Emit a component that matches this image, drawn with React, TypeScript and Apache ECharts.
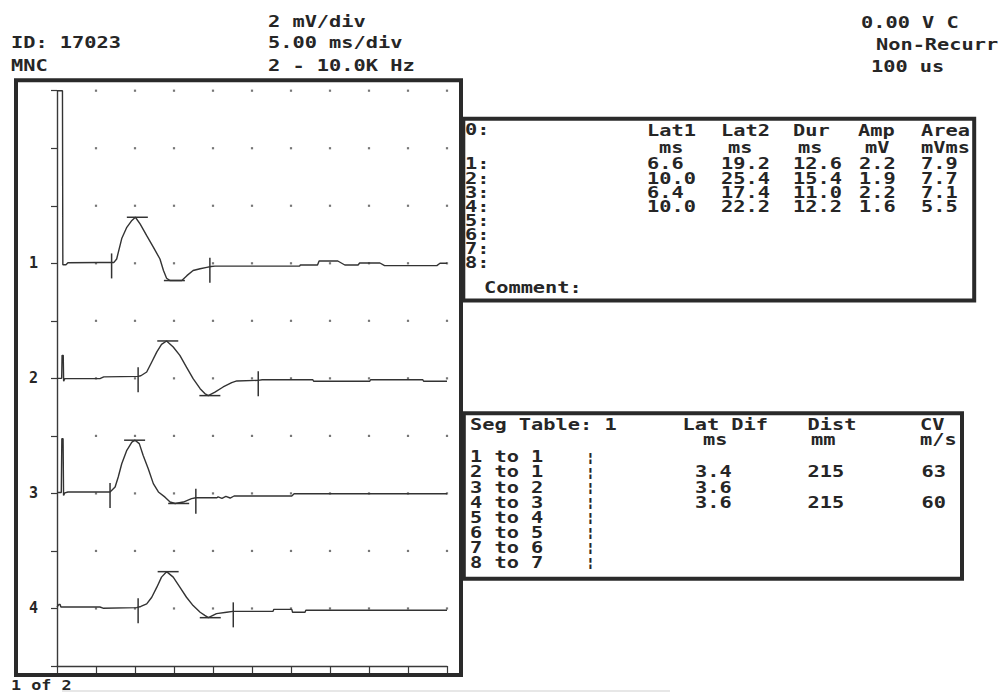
import { useEffect, useRef } from "react";
import * as echarts from "echarts";

// Sweep: 5.00 ms/div over 10 divisions; sensitivity: 2 mV/div over 10 divisions
const X_MAX_MS = 50;
const X_DIV_MS = 5;
const Y_MAX_MV = 20;
const Y_DIV_MV = 2;

// Each trace is drawn on its own baseline (mV on the display scale)
const TRACE_BASE_MV = [14, 10, 6, 2];
const TRACE_LABELS = ["1", "2", "3", "4"];

// Delay between the sweep start and the stimulus (ms)
const STIM_DELAY_MS = 0.4;

// Waveforms: [time ms, mV relative to the trace baseline]
const TRACE_1: [number, number][] = [
  [0, 6.0], [0.7, 6.0], [0.75, -0.05], [1.15, -0.05], [1.4, 0.02], [5.5, 0.03],
  [7.3, 0.03], [7.65, 0.15], [8.3, 0.86], [8.95, 1.25], [9.6, 1.49], [10.05, 1.6],
  [10.65, 1.37], [11.5, 0.96], [12.35, 0.56], [13.2, 0.15], [13.65, -0.25],
  [14.05, -0.52], [14.5, -0.6], [16.0, -0.6], [16.65, -0.43], [17.45, -0.25],
  [18.35, -0.19], [19.2, -0.14], [19.75, -0.11], [20.25, -0.1], [31.1, -0.1],
  [31.2, -0.06], [33.4, -0.06], [33.6, 0.08], [36.0, 0.08], [36.9, -0.06],
  [38.6, -0.06], [38.8, 0.01], [41.4, 0.01], [42.0, -0.08], [48.7, -0.08],
  [49.1, 0], [50, 0],
];
const TRACE_2: [number, number][] = [
  [0, 0], [0.6, 0], [0.65, 0.8], [0.8, 0.8], [0.85, -0.1], [1.0, -0.01],
  [5.5, -0.01], [6.0, 0.05], [10.4, 0.07], [10.75, 0.09], [11.5, 0.22],
  [12.15, 0.57], [12.8, 0.92], [13.4, 1.18], [14.05, 1.3], [14.9, 1.09],
  [15.75, 0.8], [16.6, 0.39], [17.45, -0.01], [18.35, -0.36], [18.95, -0.53],
  [19.4, -0.6], [20.25, -0.48], [21.3, -0.3], [22.4, -0.15], [23.05, -0.09],
  [25.8, -0.07], [26.3, -0.05], [32.8, -0.05], [32.9, -0.1], [40.1, -0.1],
  [40.2, -0.05], [46.9, -0.05], [47.0, -0.1], [50, -0.1],
];
const TRACE_3: [number, number][] = [
  [0, 0.03], [0.55, 0.03], [0.62, 1.9], [0.78, 1.9], [0.84, -0.07], [1.0, 0.02],
  [1.4, 0.05], [6.8, 0.05], [7.45, 0.22], [7.85, 0.57], [8.3, 1.03], [8.95, 1.5],
  [9.6, 1.78], [10.0, 1.85], [10.55, 1.73], [11.05, 1.32], [11.7, 0.86],
  [12.35, 0.34], [13.0, 0.05], [13.85, -0.13], [14.5, -0.3], [15.15, -0.35],
  [16.2, -0.3], [17.25, -0.18], [17.8, -0.15], [20.5, -0.15], [20.65, -0.12],
  [21.15, -0.17], [21.65, -0.1], [22.2, -0.16], [22.7, -0.09], [30.1, -0.09],
  [30.4, -0.01], [50, -0.01],
];
const TRACE_4: [number, number][] = [
  [0, 0.05], [0.25, 0.14], [0.4, 0.14], [0.5, 0.05], [5.5, 0.05], [5.9, 0.01],
  [10.2, 0.03], [10.75, 0.07], [11.5, 0.16], [12.15, 0.39], [12.8, 0.74],
  [13.4, 1.09], [14.05, 1.28], [14.9, 1.09], [15.75, 0.74], [16.6, 0.39],
  [17.45, 0.1], [18.35, -0.13], [18.95, -0.24], [19.4, -0.32], [20.45, -0.18],
  [21.75, -0.13], [22.55, -0.1], [27.7, -0.1], [27.8, -0.03], [30.1, -0.03],
  [30.2, -0.13], [31.8, -0.13], [31.9, -0.06], [50, -0.06],
];
const TRACES = [TRACE_1, TRACE_2, TRACE_3, TRACE_4];

// Measurement table (per trace)
const LAT1_MS = [6.6, 10.0, 6.4, 10.0];
const LAT2_MS = [19.2, 25.4, 17.4, 22.2];
const AMP_MV = [2.2, 1.9, 2.2, 1.6];
const AREA_MVMS = [7.9, 7.7, 7.1, 5.5];
// Positive peak (mV above baseline) and the time of the peak / trough cursors
const PEAK_MV = [1.6, 1.3, 1.85, 1.28];
const PEAK_T_MS = [10.3, 14.2, 9.95, 14.25];
const TROUGH_T_MS = [15.05, 19.6, 15.6, 19.65];

// Segment table
const SEG_ROWS = ["1 to 1", "2 to 1", "3 to 2", "4 to 3", "5 to 4", "6 to 5", "7 to 6", "8 to 7"];
const SEG_LAT_DIF_MS = [null, 3.4, 3.6, 3.6, null, null, null, null];
const SEG_DIST_MM = [null, 215, null, 215, null, null, null, null];
const SEG_CV_MS = [null, 63, null, 60, null, null, null, null];

const INK = "#262626";
const LINE = "#333333";
const FONT = 'bold 16px "DejaVu Sans Mono"';
const SCALE_X = 1.27;

function valueAt(trace: [number, number][], t: number): number {
  for (let i = 1; i < trace.length; i++) {
    const [t0, v0] = trace[i - 1];
    const [t1, v1] = trace[i];
    if (t >= t0 && t <= t1) {
      return t1 === t0 ? v1 : v0 + ((v1 - v0) * (t - t0)) / (t1 - t0);
    }
  }
  return trace[trace.length - 1][1];
}

function txt(x: number, y: number, s: string, font: string = FONT, scaleX: number = SCALE_X) {
  return {
    type: "text",
    x,
    y,
    scaleX,
    silent: true,
    style: {
      text: s,
      font,
      fill: INK,
      align: "left",
      verticalAlign: "middle",
      textAlign: "left",
      textVerticalAlign: "middle",
    },
  };
}

function frame(x: number, y: number, w: number, h: number) {
  return {
    type: "rect",
    silent: true,
    shape: { x, y, width: w, height: h },
    style: { fill: "none", stroke: "#2a2a2a", lineWidth: 4 },
  };
}

export default function App() {
  const ref = useRef<HTMLDivElement>(null);

  useEffect(() => {
    if (!ref.current) return;
    const chart = echarts.init(ref.current, undefined, { renderer: "svg" });

    // Dotted graticule at every division
    const dots: number[][] = [];
    for (let x = X_DIV_MS; x <= X_MAX_MS; x += X_DIV_MS) {
      for (let y = Y_DIV_MV; y <= Y_MAX_MV; y += Y_DIV_MV) dots.push([x, y]);
    }

    const traceSeries = TRACES.map((tr, i) => ({
      type: "line",
      name: TRACE_LABELS[i],
      data: tr.map(([t, v]) => [t, TRACE_BASE_MV[i] + v]),
      showSymbol: false,
      symbol: "none",
      lineStyle: { color: LINE, width: 1.4 },
      clip: true,
      z: 3,
    }));

    // Cursors: 0 = latency tick, 1 = peak / trough bar
    const cursors: number[][] = [];
    TRACES.forEach((tr, i) => {
      const base = TRACE_BASE_MV[i];
      const t1 = LAT1_MS[i] + STIM_DELAY_MS;
      const t2 = LAT2_MS[i] + STIM_DELAY_MS;
      cursors.push([t1, base + valueAt(tr, t1), 0]);
      cursors.push([t2, base + valueAt(tr, t2), 0]);
      cursors.push([PEAK_T_MS[i], base + PEAK_MV[i], 1]);
      cursors.push([TROUGH_T_MS[i], base + PEAK_MV[i] - AMP_MV[i], 1]);
    });

    const graphics: any[] = [
      frame(16, 80.3, 445, 594.7),
      frame(463.3, 118.7, 510.9, 181.8),
      frame(463.8, 413.3, 498.2, 165.5),
      {
        type: "line",
        silent: true,
        shape: { x1: 62, y1: 691, x2: 670, y2: 691 },
        style: { stroke: "#cfcfcf", lineWidth: 1 },
      },
      // Header
      txt(268, 21, "2 mV/div"),
      txt(11, 42.5, "ID: 17023"),
      txt(268, 42.5, "5.00 ms/div"),
      txt(11, 65.3, "MNC"),
      txt(268, 65.5, "2 - 10.0K Hz"),
      txt(861, 22.5, "0.00 V C"),
      txt(876, 44.2, "Non-Recurr"),
      txt(871, 66, "100 us"),
      txt(11, 685, "1 of 2", 'bold 14px "DejaVu Sans Mono"', 1.2),
    ];

    // Measurement table
    const colX = [647, 721, 793, 858, 921];
    const heads = ["Lat1", "Lat2", "Dur", "Amp", "Area"];
    const units = ["ms", "ms", "ms", "mV", "mVms"];
    const unitX = [659, 728, 798, 865, 921];
    graphics.push(txt(465, 129, "0:"));
    heads.forEach((h, k) => graphics.push(txt(colX[k], 130, h)));
    units.forEach((u, k) => graphics.push(txt(unitX[k], 147, u)));
    for (let r = 0; r < 8; r++) {
      const y = 163.8 + 14.07 * r;
      graphics.push(txt(465, y, `${r + 1}:`));
      if (r < LAT1_MS.length) {
        const vals = [
          LAT1_MS[r].toFixed(1),
          LAT2_MS[r].toFixed(1),
          (LAT2_MS[r] - LAT1_MS[r]).toFixed(1),
          AMP_MV[r].toFixed(1),
          AREA_MVMS[r].toFixed(1),
        ];
        vals.forEach((v, k) => graphics.push(txt(k === 3 ? 859 : colX[k], y, v)));
      }
    }
    graphics.push(txt(484, 287.5, "Comment:"));

    // Segment table
    graphics.push(txt(470, 424.2, "Seg Table: 1"));
    graphics.push(txt(682.5, 424.2, "Lat Dif"));
    graphics.push(txt(807.5, 424.2, "Dist"));
    graphics.push(txt(920, 424.2, "CV"));
    graphics.push(txt(703, 439.5, "ms"));
    graphics.push(txt(811, 439.5, "mm"));
    graphics.push(txt(920, 439.5, "m/s"));
    SEG_ROWS.forEach((row, r) => {
      const y = 456.7 + 15.1 * r;
      graphics.push(txt(470, y, row));
      graphics.push(txt(585, y + 1, "¦", 'bold 12px "DejaVu Sans Mono"', 1.5));
      const ld = SEG_LAT_DIF_MS[r];
      const di = SEG_DIST_MM[r];
      const cv = SEG_CV_MS[r];
      if (ld != null) graphics.push(txt(695, y, ld.toFixed(1)));
      if (di != null) graphics.push(txt(807.5, y, String(di)));
      if (cv != null) graphics.push(txt(921.5, y, String(cv)));
    });

    chart.setOption({
      animation: false,
      backgroundColor: "#ffffff",
      grid: { left: 57, right: 554, top: 90.7, bottom: 27, containLabel: false },
      xAxis: {
        type: "value",
        min: 0,
        max: X_MAX_MS,
        interval: X_DIV_MS,
        axisLine: { show: true, onZero: false, lineStyle: { color: "#3a3a3a", width: 1.4 } },
        axisTick: { show: true, inside: false, length: 7, lineStyle: { color: "#3a3a3a", width: 1.2 } },
        axisLabel: { show: false },
        splitLine: { show: false },
      },
      yAxis: {
        type: "value",
        min: 0,
        max: Y_MAX_MV,
        interval: Y_DIV_MV,
        axisLine: { show: true, onZero: false, lineStyle: { color: "#3a3a3a", width: 1.4 } },
        axisTick: { show: true, inside: false, length: 6, lineStyle: { color: "#3a3a3a", width: 1.2 } },
        axisLabel: {
          show: true,
          margin: 19,
          color: INK,
          fontFamily: "DejaVu Sans Mono",
          fontWeight: "bold",
          fontSize: 15,
          formatter: (v: number) => {
            const k = TRACE_BASE_MV.indexOf(v);
            return k >= 0 ? TRACE_LABELS[k] : "";
          },
        },
        splitLine: { show: false },
      },
      series: [
        {
          type: "scatter",
          data: dots,
          symbol: "rect",
          symbolSize: 2.2,
          itemStyle: { color: "#555555" },
          silent: true,
          z: 1,
        },
        ...traceSeries,
        {
          type: "custom",
          data: cursors,
          silent: true,
          z: 4,
          renderItem: (_params: any, api: any) => {
            const p = api.coord([api.value(0), api.value(1)]);
            const kind = api.value(2);
            const shape =
              kind === 0
                ? { x1: p[0], y1: p[1] - 9, x2: p[0], y2: p[1] + 16 }
                : { x1: p[0] - 10.5, y1: p[1], x2: p[0] + 10.5, y2: p[1] };
            return { type: "line", shape, style: { stroke: LINE, lineWidth: 1.5 } };
          },
        },
      ],
      graphic: graphics,
    });

    return () => chart.dispose();
  }, []);

  return (
    <div
      ref={ref}
      style={{ position: "absolute", left: 0, top: 0, width: 1001, height: 693, background: "#fff" }}
    />
  );
}
